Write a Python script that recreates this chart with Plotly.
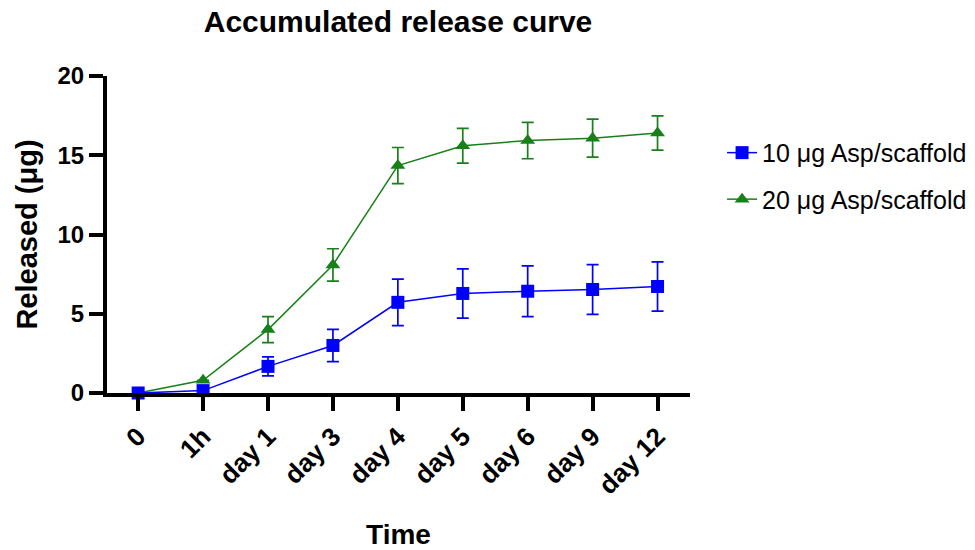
import plotly.graph_objects as go

categories = ["0", "1h", "day 1", "day 3", "day 4", "day 5", "day 6", "day 9", "day 12"]
blue_values = [0.0, 0.15, 1.68, 3.0, 5.72, 6.28, 6.42, 6.53, 6.72]
blue_errors = [0.0, 0.05, 0.6, 1.02, 1.47, 1.55, 1.6, 1.57, 1.55]
green_values = [0.0, 0.8, 4.0, 8.08, 14.35, 15.6, 15.93, 16.08, 16.4]
green_errors = [0.0, 0.0, 0.82, 1.02, 1.14, 1.1, 1.15, 1.2, 1.08]
series_names = ["10 μg Asp/scaffold", "20 μg Asp/scaffold"]
y_ticks = [0, 5, 10, 15, 20]

FONT = "Liberation Sans, Arial, sans-serif"
x_idx = list(range(len(categories)))

fig = go.Figure()
fig.add_trace(go.Scatter(
    x=x_idx, y=green_values, name=series_names[1], mode="lines+markers",
    line=dict(color="#188018", width=1.5),
    marker=dict(symbol="triangle-up", size=13, color="#188018"),
    error_y=dict(type="data", array=green_errors, visible=True, color="#188018", thickness=1.7, width=6),
    legendgroup="g", legendrank=2, cliponaxis=False,
))
fig.add_trace(go.Scatter(
    x=x_idx, y=blue_values, name=series_names[0], mode="lines+markers",
    line=dict(color="#0000ff", width=1.5),
    marker=dict(symbol="square", size=13, color="#0000ff"),
    error_y=dict(type="data", array=blue_errors, visible=True, color="#0000ff", thickness=1.7, width=6),
    legendgroup="b", legendrank=1, cliponaxis=False,
))

fig.update_layout(
    width=975, height=550,
    paper_bgcolor="white", plot_bgcolor="white",
    margin=dict(l=107, r=285, t=76, b=157, autoexpand=False),
    title=dict(text="<b>Accumulated release curve</b>", x=398 / 975, xanchor="center",
               y=1 - 21 / 550, yanchor="middle", font=dict(family=FONT, size=30, color="black")),
    font=dict(family=FONT, color="black"),
    showlegend=True,
    legend=dict(x=1.055, y=0.83, xanchor="left", yanchor="top", font=dict(family=FONT, size=25, color="black"),
                tracegroupgap=11, bgcolor="rgba(0,0,0,0)", traceorder="grouped"),
    xaxis=dict(
        range=[-0.48, 8.5], tickmode="array", tickvals=x_idx, ticktext=["<b>%s</b>" % c for c in categories],
        tickangle=-45, tickfont=dict(family=FONT, size=26, color="black"), automargin=False,
        showline=True, linecolor="black", linewidth=4, ticks="outside", ticklen=14, tickwidth=4, tickcolor="black",
        showgrid=False, zeroline=False,
        title=dict(text="<b>Time</b>", font=dict(family=FONT, size=28, color="black"), standoff=28),
    ),
    yaxis=dict(
        range=[0, 20], tickmode="array", tickvals=y_ticks, ticktext=["<b>%d</b>" % v for v in y_ticks],
        tickfont=dict(family=FONT, size=24, color="black"), automargin=False,
        showline=True, linecolor="black", linewidth=4, ticks="outside", ticklen=14, tickwidth=4, tickcolor="black",
        showgrid=False, zeroline=False,
        title=dict(text="<b>Released (μg)</b>", font=dict(family=FONT, size=29, color="black"), standoff=12),
    ),
)

fig.write_html("out.html", config={"displayModeBar": False},
               post_script="document.body.style.margin='0px';")
